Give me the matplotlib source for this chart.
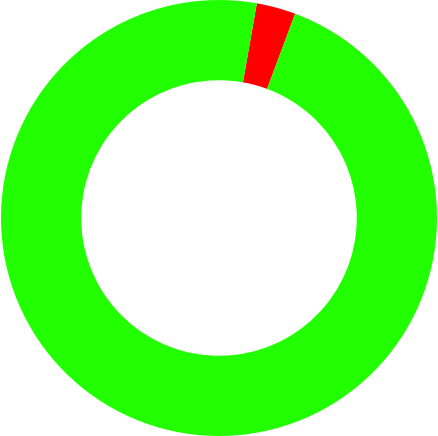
import matplotlib
matplotlib.use("Agg")
import matplotlib.pyplot as plt

# share of each slice (percent), red slice first, drawn clockwise
labels = ["red", "green"]
values = [2.9, 97.1]
colors = ["#ff0000", "#22ff00"]

fig = plt.figure(figsize=(4.38, 4.36), dpi=100)
ax = fig.add_axes([0, 0, 1, 1])
ax.pie(
    values,
    colors=colors,
    startangle=80,
    counterclock=False,
    radius=1.0,
    wedgeprops=dict(width=0.368, linewidth=0, antialiased=True),
)
ax.set_xlim(-219 / 218, 219 / 218)
ax.set_ylim(-1, 1)
ax.set_aspect("auto")
ax.axis("off")
fig.savefig("out.png", dpi=100)
